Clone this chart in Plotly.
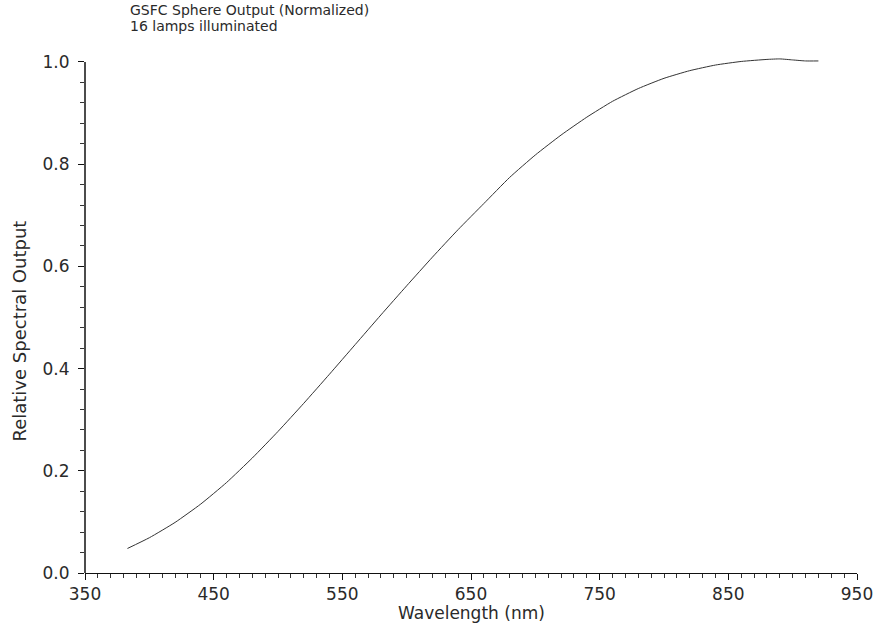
import plotly.graph_objects as go

# Data
wavelength_nm = [383, 400, 420, 440, 460, 480, 500, 520, 540, 560, 580, 600, 620, 640,
                 660, 680, 700, 720, 740, 760, 780, 800, 820, 840, 860, 880, 890, 900, 910, 920]
relative_output = [0.048, 0.069, 0.099, 0.135, 0.177, 0.225, 0.277, 0.332, 0.389, 0.447,
                   0.505, 0.562, 0.618, 0.672, 0.723, 0.774, 0.818, 0.857, 0.892, 0.923,
                   0.948, 0.968, 0.983, 0.994, 1.001, 1.005, 1.006, 1.004, 1.002, 1.002]

x_tick_vals = [350, 450, 550, 650, 750, 850, 950]
y_tick_vals = [0.0, 0.2, 0.4, 0.6, 0.8, 1.0]

title_lines = ["GSFC Sphere Output (Normalized)", "16 lamps illuminated"]
x_title = "Wavelength (nm)"
y_title = "Relative Spectral Output"

FONT = "DejaVu Sans"
INK = "#2a2a2a"

# plot area in page pixels: x 85..857, y 62 (=1.0) .. 573 (=0.0)
Y_TOP = 1.0156  # a little headroom so the curve above 1.0 is not clipped
PX_PER_UNIT = 511.0
PLOT_H = PX_PER_UNIT * Y_TOP


def py(px):
    """page pixel row -> paper y"""
    return (573 - px) / PLOT_H


def px_x(px):
    return (px - 85) / 772.0


fig = go.Figure()
fig.add_trace(go.Scatter(
    x=wavelength_nm, y=relative_output, mode="lines",
    line=dict(color="#333333", width=1, shape="spline", smoothing=0.5),
    showlegend=False, hoverinfo="skip"))

fig.update_layout(
    width=876, height=628,
    margin=dict(l=85, r=876 - 857, t=int(round(573 - PLOT_H)), b=628 - 573, autoexpand=False),
    paper_bgcolor="white", plot_bgcolor="white",
    font=dict(family=FONT, color=INK, size=16),
    xaxis=dict(
        range=[350, 950], tickvals=x_tick_vals, ticktext=[str(v) for v in x_tick_vals],
        showgrid=False, zeroline=False, showline=True, linecolor="#111", linewidth=1,
        ticks="outside", ticklen=6, tickwidth=1, tickcolor="#111",
        tickfont=dict(family=FONT, size=17, color=INK),
        minor=dict(dtick=10, tick0=350, ticks="outside", ticklen=4, tickwidth=1, tickcolor="#333"),
        automargin=False, fixedrange=True),
    yaxis=dict(
        range=[0, Y_TOP], tickvals=y_tick_vals, ticktext=[f"{v:.1f}" for v in y_tick_vals],
        showgrid=False, zeroline=False, showline=False,
        ticks="outside", ticklen=6, tickwidth=1, tickcolor="#111",
        ticklabelstandoff=5,
        tickfont=dict(family=FONT, size=17, color=INK),
        minor=dict(dtick=0.04, tick0=0, ticks="outside", ticklen=4, tickwidth=1, tickcolor="#333"),
        automargin=False, fixedrange=True),
    shapes=[dict(type="line", xref="paper", yref="y", x0=0, x1=0, y0=0, y1=1.0,
                 line=dict(color="#111", width=1.5))],
    annotations=[
        dict(text=title_lines[0], xref="paper", yref="paper",
             x=px_x(129), y=py(1), xanchor="left", yanchor="top", borderpad=0,
             showarrow=False, font=dict(family=FONT, size=14, color=INK)),
        dict(text=title_lines[1], xref="paper", yref="paper",
             x=px_x(129), y=py(17), xanchor="left", yanchor="top", borderpad=0,
             showarrow=False, font=dict(family=FONT, size=14, color=INK)),
        dict(text=x_title, xref="paper", yref="paper",
             x=px_x(471), y=py(601), xanchor="center", yanchor="top",
             showarrow=False, font=dict(family=FONT, size=17, color=INK)),
        dict(text=y_title, xref="paper", yref="paper", textangle=-90,
             x=px_x(7), y=py(331), xanchor="left", yanchor="middle",
             showarrow=False, font=dict(family=FONT, size=18, color=INK)),
    ],
)

fig.write_html("out.html", config={"displayModeBar": False},
               post_script="document.body.style.margin='0';document.body.style.overflow='hidden';")
